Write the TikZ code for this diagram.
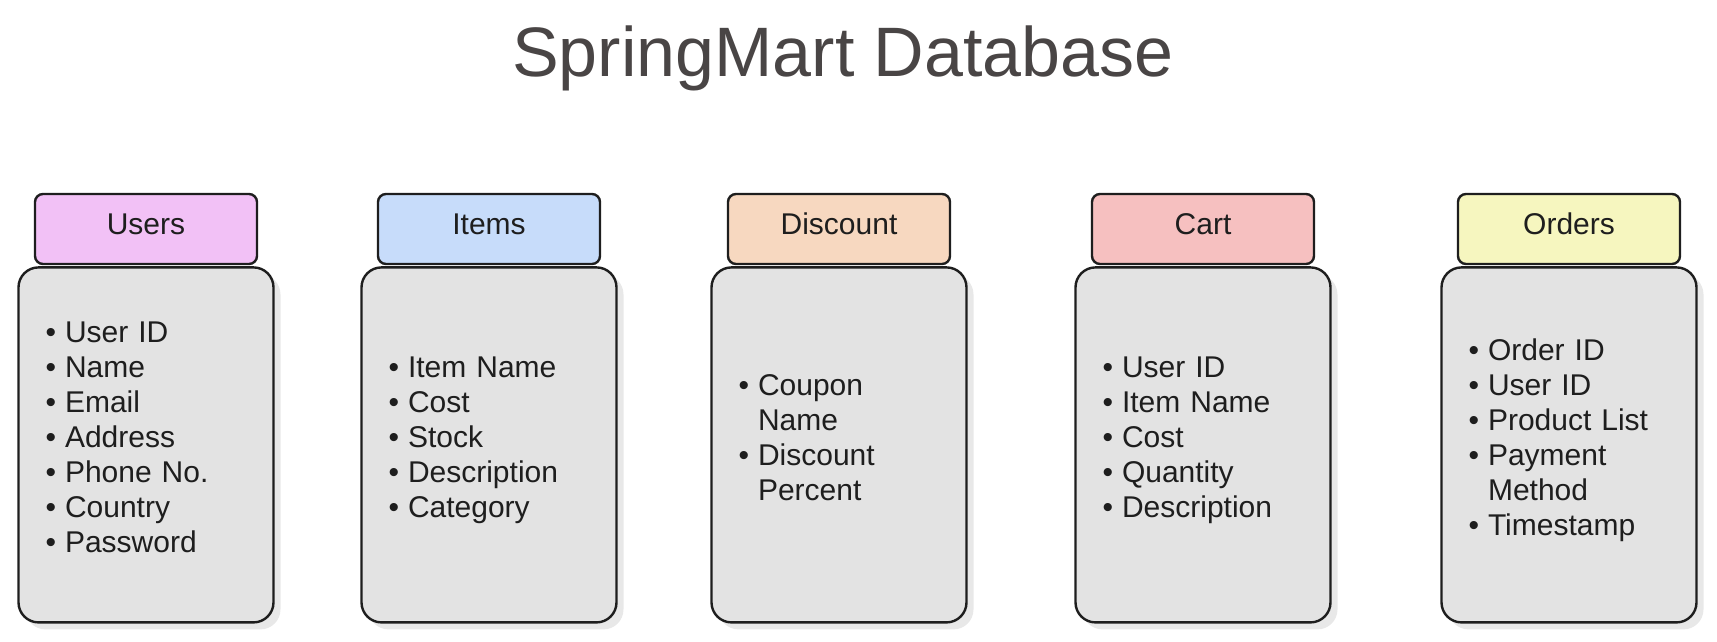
\documentclass[tikz,border=0pt]{standalone}
\usepackage{fontspec}
\setmainfont{Liberation Sans}
\usetikzlibrary{positioning,shadows}

\definecolor{ink}{HTML}{1E1E1E}
\definecolor{titlegray}{HTML}{494545}
\definecolor{bodygray}{HTML}{E3E3E3}
\definecolor{userspink}{HTML}{F2C1F6}
\definecolor{itemsblue}{HTML}{C7DCFA}
\definecolor{discountpeach}{HTML}{F7D8C0}
\definecolor{cartred}{HTML}{F6C0C0}
\definecolor{ordersyellow}{HTML}{F6F6BF}

\newcommand{\fieldlist}[1]{\raisebox{4pt}[\height][\depth]{\begin{tabular}{@{}l@{\hspace{9pt}}l@{}}#1\end{tabular}}}

\begin{document}
\begin{tikzpicture}[x=1pt,y=-1pt,line width=2.4pt,
    head node/.style={rectangle,draw=ink,rounded corners=8pt,minimum width=222pt,minimum height=70pt,text height=16pt,text depth=5pt,text=ink,font=\fontsize{30}{35}\selectfont},
    body node/.style={rectangle,draw=ink,fill=bodygray,rounded corners=20pt,text width=201pt,inner xsep=27pt,minimum height=355pt,align=left,text=ink,font=\fontsize{30}{35}\selectfont,drop shadow={shadow xshift=7pt,shadow yshift=-7pt,fill=black!9,opacity=1}}]
    \useasboundingbox (0,0) rectangle (1717,641);

    \node[anchor=base,text=titlegray,font=\fontsize{70}{84}\selectfont] (title) at (843,76) {SpringMart Database};

    % table headers
    \node[head node] (h1) [fill=userspink] at (146,229) {Users};
    \node[head node] (h2) [fill=itemsblue] at (489,229) {Items};
    \node[head node] (h3) [fill=discountpeach] at (839,229) {Discount};
    \node[head node] (h4) [fill=cartred] at (1203,229) {Cart};
    \node[head node] (h5) [fill=ordersyellow] at (1569,229) {Orders};

    % table fields
    \node[body node] (b1) [below=1pt of h1] {\fieldlist{
        \textbullet & User ID\\
        \textbullet & Name\\
        \textbullet & Email\\
        \textbullet & Address\\
        \textbullet & Phone No.\\
        \textbullet & Country\\
        \textbullet & Password\\}};
    \node[body node] (b2) [below=1pt of h2] {\fieldlist{
        \textbullet & Item Name\\
        \textbullet & Cost\\
        \textbullet & Stock\\
        \textbullet & Description\\
        \textbullet & Category\\}};
    \node[body node] (b3) [below=1pt of h3] {\fieldlist{
        \textbullet & Coupon\\
                    & Name\\
        \textbullet & Discount\\
                    & Percent\\}};
    \node[body node] (b4) [below=1pt of h4] {\fieldlist{
        \textbullet & User ID\\
        \textbullet & Item Name\\
        \textbullet & Cost\\
        \textbullet & Quantity\\
        \textbullet & Description\\}};
    \node[body node] (b5) [below=1pt of h5] {\fieldlist{
        \textbullet & Order ID\\
        \textbullet & User ID\\
        \textbullet & Product List\\
        \textbullet & Payment\\
                    & Method\\
        \textbullet & Timestamp\\}};
\end{tikzpicture}
\end{document}
